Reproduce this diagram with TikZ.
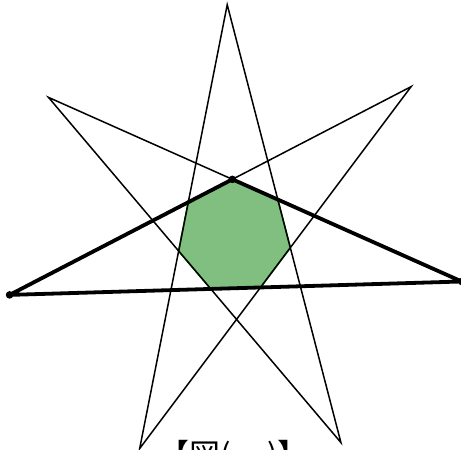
\documentclass[tikz,border=0pt]{standalone}
\usepackage{fontspec}
\newfontfamily\jpfont{Noto Sans CJK JP}
\usepackage{xcolor}
\usepackage{tikz}
\usetikzlibrary{calc}
\definecolor{heptgreen}{RGB}{0,128,0}

\begin{document}
\begin{tikzpicture}[x=1pt,y=1pt,
		starline/.style={line width=1.5pt},
		triline/.style={line width=3.8pt,line join=round},
		heptagon/.style={draw=heptgreen,line width=1.5pt,fill=heptgreen!50}]
		\useasboundingbox (0,0) rectangle (461,450);
		\coordinate (C) at (234.1,213.4);
		\foreach \k in {0,...,6}{
			\coordinate (V\k) at ($(C)+({91.7+\k*360/7}:232)$);
			\coordinate (I\k) at ($(C)+({91.7+\k*360/7}:{232*cos(540/7)/cos(180/7)})$);
		}
		\filldraw[heptagon] (I0) -- (I1) -- (I2) -- (I3) -- (I4) -- (I5) -- (I6) -- cycle;
		\draw[starline] (V0) -- (V3) -- (V6) -- (V2) -- (V5) -- (V1) -- (V4) -- cycle;
		\draw[triline] (V2) -- (I0) -- (V5) -- cycle;
		\foreach \p in {V2,I0,V5} \fill (\p) circle (3.8);
		\node[font=\jpfont\fontsize{31}{32}\selectfont, anchor=base, inner sep=0pt] (cap) at (233.5,-17) {【図(\hspace{37pt})】};
	\end{tikzpicture}
\end{document}
